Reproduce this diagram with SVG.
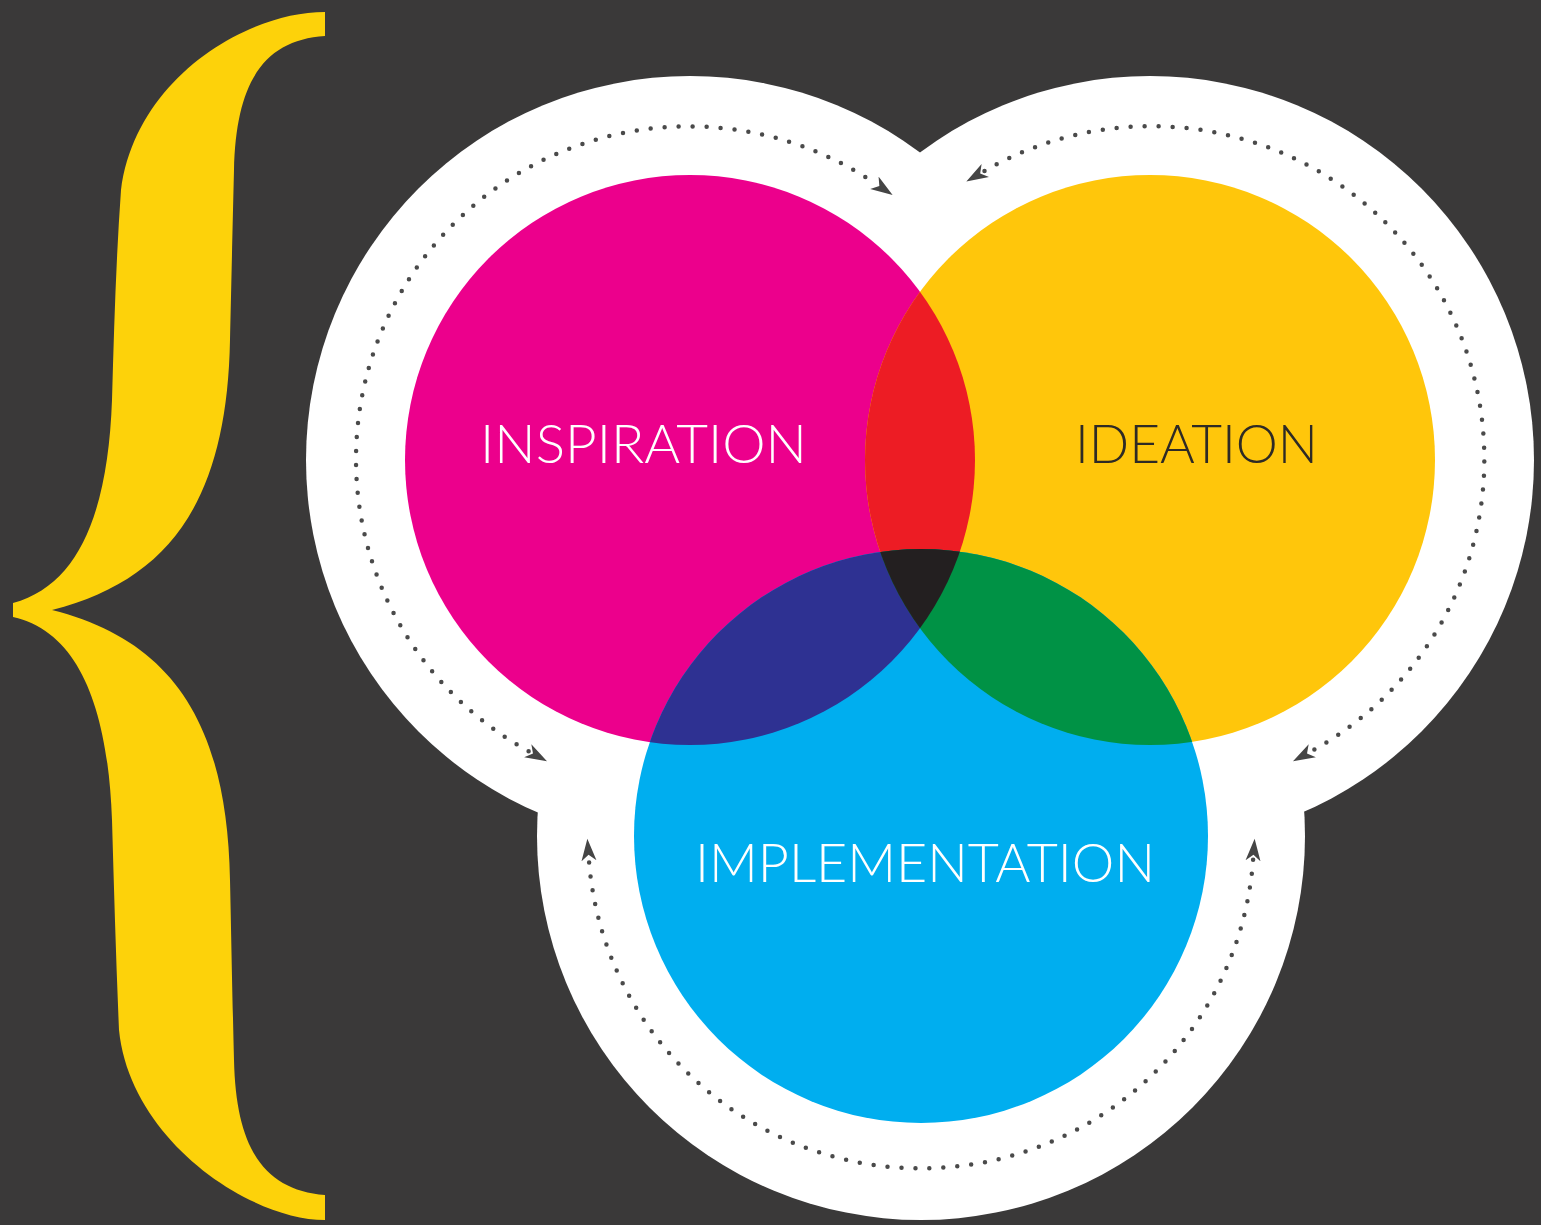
<svg xmlns="http://www.w3.org/2000/svg" width="1541" height="1225" viewBox="0 0 1541 1225">
  <style>
    .bg { fill: #3a3939; }
    .halo { fill: #ffffff; }
    .lbl { font-family: "Lato", "Liberation Sans", sans-serif; font-weight: 300; font-size: 53px; }
    .dots { fill: none; stroke: #4a4a4a; stroke-width: 4.5; stroke-linecap: round; stroke-dasharray: 0 14; marker-start: url(#ah); marker-end: url(#ah); }
  </style>
  <defs>
    <marker id="ah" viewBox="0 -8 23 16" refX="1" refY="0" markerWidth="23" markerHeight="16" markerUnits="userSpaceOnUse" orient="auto-start-reverse">
      <path d="M0,-7.5 L22,0 L0,7.5 L6,0 Z" fill="#454545"/>
    </marker>
    <clipPath id="clipM"><circle cx="690" cy="460" r="285"/></clipPath>
    <clipPath id="clipY"><circle cx="1150" cy="460" r="285"/></clipPath>
  </defs>

  <rect class="bg" x="0" y="0" width="1541" height="1225"/>

  <g id="brace">
    <path fill="#fdd20a" d="M325,12 C245,12 135,80 121,190 C116,260 114,330 112,400 C108,510 80,585 13,603 L13,617 C80,632 108,710 112,820 C114,890 116,960 119,1030 C130,1140 250,1220 325,1220 L325,1195 C265,1190 236,1150 234,1060 C232,980 231,920 230,880 C227,720 170,640 52,610 C170,580 227,500 230,340 C231,300 232,250 234,170 C236,80 265,40 325,36 Z"/>
  </g>

  <g id="halo">
    <circle class="halo" cx="690" cy="460" r="384"/>
    <circle class="halo" cx="1150" cy="460" r="384"/>
    <circle class="halo" cx="921" cy="836" r="384"/>
  </g>

  <g id="inspiration">
    <circle cx="690" cy="460" r="285" fill="#ec008c"/>
  </g>
  <g id="ideation">
    <circle cx="1150" cy="460" r="285" fill="#ffc60b"/>
  </g>
  <g id="implementation">
    <circle cx="921" cy="836" r="287" fill="#00aeef"/>
  </g>

  <g id="overlaps">
    <circle cx="1150" cy="460" r="285" fill="#ed1c24" clip-path="url(#clipM)"/>
    <circle cx="921" cy="836" r="287" fill="#2e3192" clip-path="url(#clipM)"/>
    <circle cx="921" cy="836" r="287" fill="#009245" clip-path="url(#clipY)"/>
    <g clip-path="url(#clipM)">
      <circle cx="921" cy="836" r="287" fill="#231f20" clip-path="url(#clipY)"/>
    </g>
  </g>

  <g id="labels">
    <text class="lbl" x="480" y="463" fill="#ffffff" textLength="327" lengthAdjust="spacingAndGlyphs">INSPIRATION</text>
    <text class="lbl" x="1075" y="463" fill="#2e2a25" textLength="243" lengthAdjust="spacingAndGlyphs">IDEATION</text>
    <text class="lbl" x="695" y="882" fill="#ffffff" textLength="460" lengthAdjust="spacingAndGlyphs">IMPLEMENTATION</text>
  </g>

  <g id="connectors">
    <path class="dots" d="M528.6,751.2 A333,333 0 1 1 875.2,183.3"/>
    <path class="dots" d="M984.5,171.0 A333,333 0 1 1 1311.4,751.2"/>
    <path class="dots" d="M1253.1,859.8 A333,333 0 0 1 588.9,859.8"/>
  </g>
</svg>
